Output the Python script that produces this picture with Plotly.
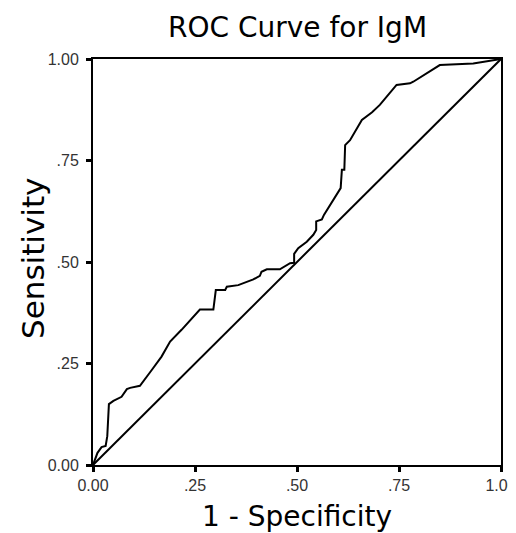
import plotly.graph_objects as go

# ROC curve points (1 - specificity, sensitivity)
fpr = [0.0, 0.011, 0.021, 0.031, 0.035, 0.039, 0.050, 0.070, 0.083, 0.091, 0.115,
       0.122, 0.144, 0.168, 0.189, 0.217, 0.262, 0.295, 0.301, 0.324, 0.328, 0.356,
       0.393, 0.409, 0.413, 0.426, 0.458, 0.483, 0.493, 0.493, 0.503, 0.524, 0.540,
       0.547, 0.547, 0.561, 0.566, 0.607, 0.610, 0.616, 0.618, 0.630, 0.659, 0.684,
       0.703, 0.744, 0.777, 0.785, 0.850, 0.932, 0.973, 1.0]
tpr = [0.0, 0.030, 0.044, 0.047, 0.071, 0.150, 0.158, 0.168, 0.187, 0.190, 0.195,
       0.205, 0.234, 0.267, 0.304, 0.333, 0.383, 0.383, 0.431, 0.431, 0.439, 0.443,
       0.457, 0.466, 0.476, 0.482, 0.482, 0.497, 0.498, 0.520, 0.534, 0.550, 0.567,
       0.579, 0.600, 0.605, 0.616, 0.682, 0.727, 0.727, 0.788, 0.800, 0.850, 0.869,
       0.887, 0.936, 0.940, 0.944, 0.985, 0.989, 0.995, 1.0]
ref_line = [0.0, 1.0]

tick_vals = [0.0, 0.25, 0.5, 0.75, 1.0]
tick_text = ["0.00", ".25", ".50", ".75", "1.00"]

title_text = "ROC Curve for IgM"
x_title = "1 - Specificity"
y_title = "Sensitivity"

font_family = "DejaVu Sans, Verdana, sans-serif"
tick_family = "Liberation Sans, Arial, sans-serif"

fig = go.Figure()
fig.add_trace(go.Scatter(x=ref_line, y=ref_line, mode="lines",
                         line=dict(color="black", width=2), hoverinfo="skip"))
fig.add_trace(go.Scatter(x=fpr, y=tpr, mode="lines",
                         line=dict(color="black", width=2), hoverinfo="skip"))

axis_common = dict(range=[0, 1], tickvals=tick_vals, ticktext=tick_text,
                   showgrid=False, zeroline=False, showline=True, linecolor="black",
                   linewidth=2, mirror=True, ticks="outside", ticklen=5, tickwidth=3,
                   tickcolor="black", automargin=False, ticklabeloverflow="allow",
                   tickfont=dict(family=tick_family, size=16, color="#333"))

fig.update_layout(
    width=516, height=533,
    margin=dict(l=85, r=23, t=51, b=76, autoexpand=False),
    paper_bgcolor="white", plot_bgcolor="white",
    showlegend=False,
    font=dict(family=font_family, color="black"),
    xaxis=dict(**axis_common, ticklabelstandoff=0),
    yaxis=dict(**axis_common, ticklabelstandoff=4),
    annotations=[
        dict(text=title_text, xref="paper", yref="paper", x=0.5, y=1, yshift=32,
             showarrow=False, font=dict(size=28, family=font_family, color="black"),
             xanchor="center", yanchor="middle"),
        dict(text=x_title, xref="paper", yref="paper", x=0.5, y=0, yshift=-51,
             showarrow=False, font=dict(size=28, family=font_family, color="black"),
             xanchor="center", yanchor="middle"),
        dict(text=y_title, xref="paper", yref="paper", x=0, y=0.5, xshift=-60,
             yshift=3, textangle=-90, showarrow=False,
             font=dict(size=31, family=font_family, color="black"),
             xanchor="center", yanchor="middle"),
    ],
)

fig.write_html("out.html")
